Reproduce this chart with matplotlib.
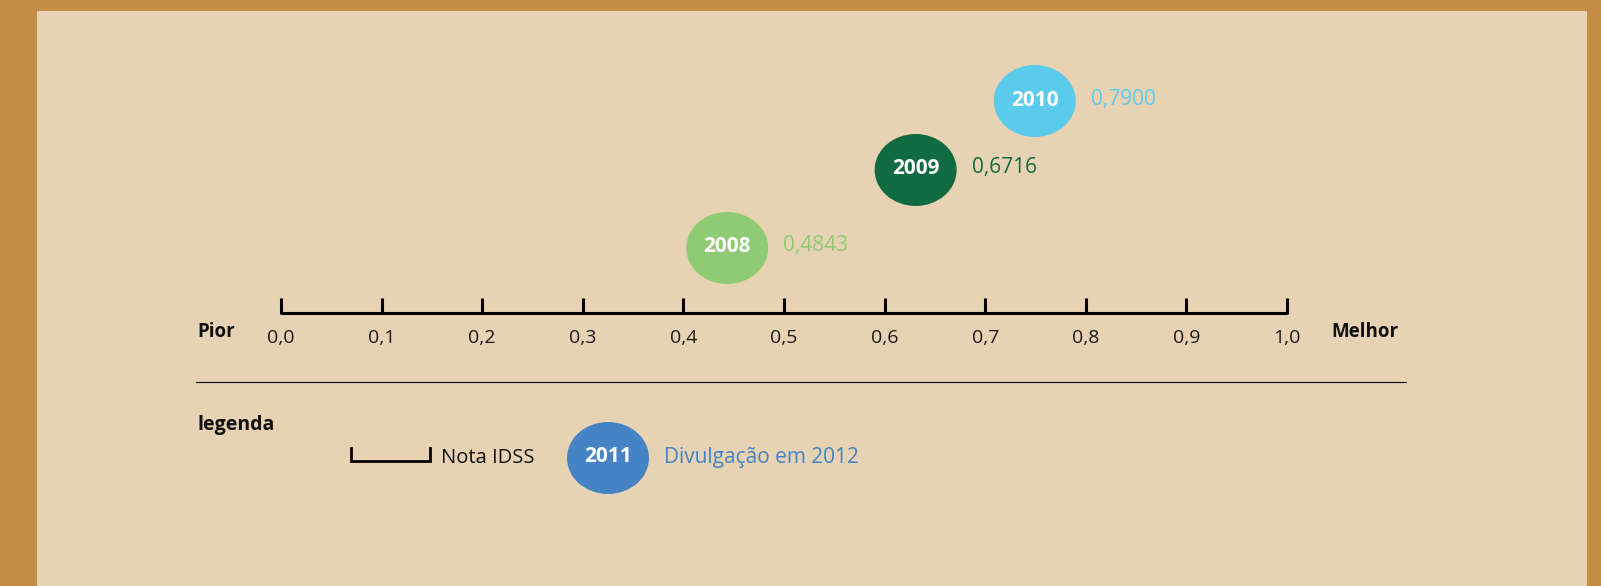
import numpy as np
import matplotlib
matplotlib.use("Agg")
from matplotlib import pyplot as plt
from matplotlib.patches import Ellipse, Rectangle

# data
years = ["2008", "2009", "2010"]
scores = [0.4843, 0.6716, 0.7900]
score_labels = ["0,4843", "0,6716", "0,7900"]
colors = ["#8FCB74", "#116B40", "#5BCBEC"]
ticks = [0.0, 0.1, 0.2, 0.3, 0.4, 0.5, 0.6, 0.7, 0.8, 0.9, 1.0]

legend_year = "2011"
legend_color = "#4583C5"

plt.rcParams["font.family"] = ["Open Sans", "DejaVu Sans"]

W, H = 1601, 586
X0, SPAN = 281, 1006          # pixel of 0.0 and pixels per unit

def px(x):
    # pixel column -> data x
    return (x - X0) / SPAN

fig = plt.figure(figsize=(W / 100, H / 100), dpi=100)
fig.patch.set_facecolor("#C48D45")
fig.add_artist(Rectangle((37 / W, 0), 1550 / W, (H - 11) / H,
                         transform=fig.transFigure, facecolor="#E8D2B4",
                         edgecolor="none", zorder=0))

ax = fig.add_axes([0, 0, 1, 1])
ax.set_xlim(px(0), px(W))
ax.set_ylim(H, 0)
ax.axis("off")

# scale
axis_y, tick_top = 313, 298
ax.plot([ticks[0], ticks[-1]], [axis_y, axis_y], color="black", lw=2.2,
        solid_capstyle="butt")
ax.vlines(ticks, tick_top, axis_y + 1, color="black", lw=2.2)
for t in ticks:
    ax.text(t, 338, f"{t:.1f}".replace(".", ","), ha="center", va="center",
            fontsize=14, color="#1a1a1a")
ax.text(px(197), 332, "Pior", ha="left", va="center", fontsize=13.5,
        fontweight="bold", color="#111111")
ax.text(px(1331), 332, "Melhor", ha="left", va="center", fontsize=13.5,
        fontweight="bold", color="#111111")

# circles: right edge sits on the score
ew, eh = 82 / SPAN, 72
rows = [248, 170, 101]
for yr, s, lab, c, y in zip(years, scores, score_labels, colors, rows):
    cx = s - ew / 2
    ax.add_patch(Ellipse((cx, y), ew, eh, facecolor=c, edgecolor="none"))
    ax.text(cx, y - 1, yr, ha="center", va="center", fontsize=15,
            fontweight="bold", color="white")
    ax.text(s + 15 / SPAN, y - 2, lab, ha="left", va="center", fontsize=15,
            color=c)

# separator
ax.plot([px(196), px(1406)], [382, 382], color="black", lw=0.8)

# legend
ax.text(px(197), 425, "legenda", ha="left", va="center", fontsize=14,
        fontweight="bold", color="#111111")
ax.plot([px(351), px(351), px(430), px(430)], [448, 461, 461, 448],
        color="black", lw=2, solid_joinstyle="miter")
ax.text(px(441), 458, "Nota IDSS", ha="left", va="center", fontsize=14.5,
        color="#111111")
ax.add_patch(Ellipse((px(608), 458), ew, eh, facecolor=legend_color,
                     edgecolor="none"))
ax.text(px(608), 457, legend_year, ha="center", va="center", fontsize=15,
        fontweight="bold", color="white")
ax.text(px(664), 458, "Divulgação em 2012", ha="left", va="center",
        fontsize=15, color=legend_color)

fig.savefig("out.png", dpi=100, facecolor=fig.get_facecolor())
